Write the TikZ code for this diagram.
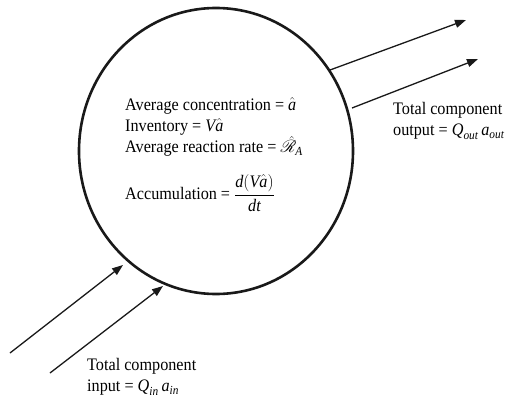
\documentclass[tikz,border=0pt]{standalone}
\usepackage{amsmath}
\usepackage{fontspec}
\usepackage{mathrsfs}
\setmainfont[FakeStretch=0.92]{Liberation Serif}
\usetikzlibrary{arrows.meta,shapes.geometric}
\newcommand{\iv}[1]{\textit{#1}}
\begin{document}
\begin{tikzpicture}[x=1pt,y=-1pt,
  flow/.style={-{Triangle[length=11pt,width=8pt]},line width=1.3pt,black!90},
  lbl/.style={font=\fontsize{17.6}{21.3}\selectfont,align=left,inner sep=0pt,anchor=west},
  vessel/.style={draw=black!90,line width=2.6pt}]
\useasboundingbox (0,0) rectangle (512,399);
\node[vessel,ellipse,minimum width=274pt,minimum height=286pt,inner sep=0pt] (cv) at (216,151) {};
\node[lbl] (info) at (125,127) {Average concentration = $\hat{\iv{a}}$\\Inventory = $\iv{V}\hat{\iv{a}}$\\Average reaction rate = $\hat{\mathscr{R}}_{\iv{A}}$};
\node[lbl] (accum) at (125,193) {Accumulation = $\dfrac{\iv{d}(\iv{V}\hat{\iv{a}})}{\iv{d}\iv{t}}$};
\node[lbl] (outl) at (393,121) {Total component\\output = $\iv{Q}_{\iv{out}}\,\iv{a}_{\iv{out}}$};
\node[lbl] (inl) at (87,377) {Total component\\input = $\iv{Q}_{\iv{in}}\,\iv{a}_{\iv{in}}$};
\coordinate (o1s) at (330,70);
\coordinate (o1e) at (466,20);
\coordinate (o2s) at (352,108);
\coordinate (o2e) at (478,59);
\coordinate (i1s) at (10,353);
\coordinate (i1e) at (123,265);
\coordinate (i2s) at (50,373);
\coordinate (i2e) at (163,286);
\draw[flow] (o1s) -- (o1e);
\draw[flow] (o2s) -- (o2e);
\draw[flow] (i1s) -- (i1e);
\draw[flow] (i2s) -- (i2e);
\end{tikzpicture}
\end{document}
